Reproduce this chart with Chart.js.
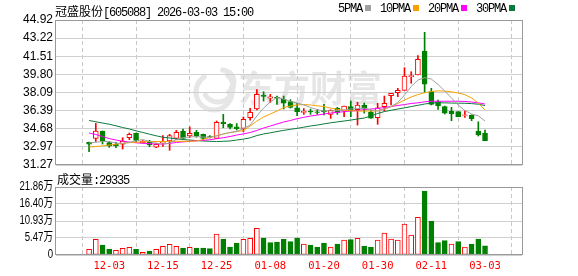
<!DOCTYPE html>
<html>
<head>
<meta charset="utf-8">
<script src="https://cdn.jsdelivr.net/npm/chart.js@4.4.1/dist/chart.umd.min.js"></script>
<style>
  body { margin: 0; background: #fff; }
  #wrap { position: relative; width: 578px; height: 276px; overflow: hidden; }
  canvas { position: absolute; left: 0; }
  #priceChart { top: 0; }
  #volChart { top: 176px; }
  .txt { position: absolute; white-space: nowrap; color: #000; line-height: 14px; }
  .cn { font: 12px 'Noto Sans CJK SC'; }
  .mono { font: 12px 'Liberation Mono'; letter-spacing: -1.2px; }
  .sq { display: inline-block; width: 6px; height: 6px; margin: 0 9px 1px 3px; }
</style>
</head>
<body>
<div id="wrap">
  <canvas id="priceChart" width="578" height="176"></canvas>
  <canvas id="volChart" width="578" height="100"></canvas>
  <div class="txt" id="title" style="left:55px; top:2px;"></div>
  <div class="txt mono" id="legend" style="left:338px; top:2px;"></div>
  <div class="txt" id="volTitle" style="left:57px; top:170px;"></div>
</div>
<script>
// stock info
const stockName = '冠盛股份';
const stockCode = '605088';
const quoteTime = '2026-03-03 15:00';

// trading days shown (MM-DD)
const dates = ['11-28','12-01','12-02','12-03','12-04','12-05','12-08','12-09','12-10','12-11',
  '12-12','12-15','12-16','12-17','12-18','12-19','12-22','12-23','12-24','12-25',
  '12-26','12-29','12-30','12-31','01-05','01-06','01-07','01-08','01-09','01-12',
  '01-13','01-14','01-15','01-16','01-19','01-20','01-21','01-22','01-23','01-26',
  '01-27','01-28','01-29','01-30','02-02','02-03','02-04','02-05','02-06','02-09',
  '02-10','02-11','02-12','02-13','02-24','02-25','02-26','02-27','03-02','03-03'];

const open = [33.40,33.78,34.47,33.37,33.22,33.22,33.84,34.28,33.37,33.40,
  32.96,33.34,33.53,33.78,34.47,34.00,34.35,34.16,33.95,33.78,
  35.29,35.10,34.86,34.72,35.72,36.54,37.86,37.55,37.64,37.48,
  37.23,36.66,36.23,36.32,36.28,36.40,36.04,36.61,36.35,36.76,
  36.47,36.92,36.23,35.72,36.76,37.79,38.07,38.30,39.58,39.74,
  42.00,38.17,37.23,36.76,36.35,36.29,35.93,35.95,34.47,34.25];
const high = [33.43,35.19,34.47,33.46,33.40,33.84,34.28,34.28,33.57,33.59,
  33.34,34.03,34.16,34.53,34.66,34.85,34.53,34.19,34.04,35.41,
  36.04,35.17,35.17,35.79,36.61,38.36,38.17,37.92,37.76,37.76,
  37.42,37.08,36.57,36.54,36.51,36.98,36.47,36.70,36.82,37.29,
  37.17,37.10,36.42,37.08,37.76,38.02,38.49,40.43,40.05,41.56,
  43.76,38.49,37.39,36.82,36.70,36.29,36.38,36.00,35.34,34.56];
const low = [32.52,33.48,33.24,32.93,32.90,32.77,33.65,33.46,33.34,32.99,
  32.90,33.03,32.65,33.65,33.78,33.84,33.88,33.65,33.81,33.78,
  34.78,34.66,34.56,34.40,35.50,36.45,37.29,37.17,36.98,36.54,
  36.63,35.91,36.04,36.04,36.04,35.98,35.66,36.04,35.81,35.81,
  35.03,36.16,35.66,35.10,36.35,36.92,37.70,38.30,38.96,39.74,
  38.11,36.92,36.51,36.07,35.44,35.81,35.76,35.44,34.00,33.56];
const close = [33.22,34.47,33.57,33.06,33.08,33.53,34.16,33.59,33.53,33.15,
  33.22,33.46,34.03,34.35,33.78,34.25,34.00,33.78,33.90,35.29,
  35.16,34.80,34.70,35.57,36.23,37.92,37.72,37.69,37.55,37.08,
  36.70,36.29,36.32,36.26,36.21,36.30,36.42,36.23,36.82,36.35,
  36.92,36.59,35.69,36.66,37.08,38.02,38.30,39.65,39.68,41.22,
  38.87,36.98,36.85,36.14,36.07,35.81,36.00,35.63,34.09,33.56];

// moving averages as drawn
const ma5 = [33.34,33.41,33.48,33.48,33.34,33.29,33.41,33.53,33.67,33.48,
  33.31,33.24,33.34,33.67,33.84,33.90,33.95,33.90,33.88,33.99,
  34.19,34.33,34.42,34.70,35.03,35.88,36.63,37.20,37.62,37.48,
  37.25,37.10,36.92,36.68,36.49,36.35,36.37,36.40,36.45,36.54,
  36.59,36.63,36.45,36.35,36.54,36.77,37.15,37.86,38.66,39.27,
  39.49,39.36,38.85,38.24,37.58,36.92,36.40,36.07,35.90,35.41];
const ma10 = [32.96,33.01,33.06,33.15,33.23,33.31,33.37,33.41,33.45,33.48,
  33.48,33.48,33.50,33.50,33.50,33.50,33.53,33.67,33.86,34.04,
  34.19,34.33,34.42,34.52,34.94,35.41,35.79,36.07,36.35,36.68,
  36.82,36.92,36.96,36.92,36.84,36.77,36.63,36.51,36.42,36.37,
  36.35,36.35,36.35,36.37,36.54,36.77,37.06,37.39,37.67,37.90,
  38.07,38.19,38.25,38.23,38.16,38.05,37.89,37.58,37.10,36.45];
const ma20 = [34.28,34.14,33.95,33.76,33.62,33.51,33.43,33.36,33.31,33.28,
  33.24,33.24,33.31,33.39,33.45,33.50,33.55,33.59,33.65,33.74,
  33.84,33.95,34.09,34.20,34.33,34.52,34.75,34.94,35.13,35.32,
  35.46,35.63,35.76,35.88,35.97,36.07,36.16,36.23,36.29,36.35,
  36.40,36.49,36.54,36.59,36.68,36.77,36.87,36.96,37.06,37.12,
  37.22,37.27,37.27,37.27,37.27,37.27,37.25,37.20,37.12,37.01];
const ma30 = [35.46,35.34,35.22,35.11,34.96,34.80,34.66,34.49,34.33,34.17,
  34.02,33.88,33.81,33.73,33.67,33.62,33.57,33.53,33.50,33.48,
  33.50,33.53,33.62,33.71,33.83,34.04,34.19,34.30,34.42,34.53,
  34.63,34.72,34.83,34.94,35.03,35.14,35.24,35.33,35.41,35.50,
  35.60,35.69,35.88,36.12,36.30,36.42,36.54,36.65,36.77,36.89,
  37.01,37.10,37.13,37.12,37.10,37.09,37.08,37.05,36.99,36.87];

// volume in 万手, and whether the volume bar is drawn as rising (red)
const volume = [1.83,5.05,3.22,1.93,1.50,2.14,2.47,1.83,0.87,1.29,
  1.83,2.79,3.43,2.79,2.25,2.47,2.25,2.25,2.03,6.75,
  5.14,2.57,3.86,5.05,5.37,8.58,5.47,3.96,4.18,5.05,
  4.28,5.47,3.54,3.22,2.57,3.86,2.57,3.54,4.82,4.92,
  5.37,2.89,2.57,4.82,7.07,5.14,4.82,9.97,6.43,12.12,
  20.58,10.93,3.96,4.60,3.54,4.28,2.57,3.54,5.14,2.9335];
const volRise = [1,1,0,0,1,1,1,0,1,0, 1,1,1,1,0,1,0,0,0,1,
  0,0,0,1,1,1,0,0,0,0, 0,0,1,0,0,0,1,0,1,0,
  1,0,0,1,1,1,1,1,1,1, 0,0,0,0,1,0,1,0,0,0];

const priceTicks = [31.27, 32.97, 34.68, 36.39, 38.09, 39.80, 41.51, 43.22, 44.92];
const volTicks = [0, 5.47, 10.93, 16.40, 21.86];
const dateTicks = ['12-03','12-15','12-25','01-08','01-20','01-30','02-11','03-03'];

const maNames = ['5PMA', '10PMA', '20PMA', '30PMA'];
const maColors = ['#a0a0a0', '#f5a200', '#ff00ff', '#0a7a3c'];
const RED = '#ff0000';
const GREEN = '#008000';

// header texts
document.getElementById('title').innerHTML =
  '<span class="cn">' + stockName + '</span><span class="mono">[' + stockCode + '] ' + quoteTime + '</span>';
document.getElementById('legend').innerHTML = maNames.map((n, k) =>
  n + '<span class="sq" style="background:' + maColors[k] + '"></span>').join('');
document.getElementById('volTitle').innerHTML =
  '<span class="cn">成交量</span><span class="mono">:' + Math.round(volume[volume.length - 1] * 10000) + '</span>';

const xMin = -0.59, xMax = 60.17;
const tickIdx = dateTicks.map(d => dates.indexOf(d));

function xAxis(showLabels) {
  return {
    type: 'linear',
    min: xMin,
    max: xMax,
    afterBuildTicks: s => { s.ticks = tickIdx.map(v => ({ value: v })); },
    afterFit: s => { s.height = showLabels ? 21 : 0; },
    grid: { color: '#c8c8c8', drawTicks: false },
    border: { display: false, dash: [4, 3] },
    ticks: {
      display: showLabels, autoSkip: false, maxRotation: 0, padding: 5,
      color: RED, font: { family: "'DejaVu Sans Mono'", size: 10.5 },
      callback: v => dates[v]
    }
  };
}

const frame = {
  id: 'frame',
  afterDraw(chart) {
    const a = chart.chartArea, ctx = chart.ctx;
    ctx.save();
    ctx.strokeStyle = '#999';
    ctx.lineWidth = 1;
    ctx.strokeRect(Math.round(a.left) - 0.5, Math.round(a.top) + 0.5,
      Math.round(a.right - a.left) + 1, Math.round(a.bottom - a.top) - 1);
    ctx.restore();
  }
};

const watermark = {
  id: 'watermark',
  beforeDraw(chart) {
    const ctx = chart.ctx;
    ctx.save();
    ctx.strokeStyle = '#e6e6e6';
    ctx.lineWidth = 5;
    ctx.lineCap = 'round';
    [[0.15, 0.85], [0.05, 0.6], [-0.05, 0.35]].forEach(([a0, a1], k) => {
      ctx.beginPath();
      ctx.arc(214 + k * 4, 92 - k * 5, 18 - k * 3, a0 * Math.PI * 2 - 1.2, a1 * Math.PI * 2 - 1.2);
      ctx.stroke();
    });
    ctx.font = "bold 36px 'Noto Sans CJK SC'";
    ctx.fillStyle = '#e6e6e6';
    ctx.textAlign = 'center';
    ctx.textBaseline = 'middle';
    ctx.fillText('东方财富', 310, 88);
    ctx.restore();
  }
};

const volLabels = {
  id: 'volLabels',
  afterDraw(chart) {
    const ctx = chart.ctx, s = chart.scales.y;
    ctx.save();
    ctx.font = "12px 'Liberation Sans', 'Noto Sans CJK SC'";
    ctx.fillStyle = '#000';
    ctx.textAlign = 'right';
    ctx.textBaseline = 'middle';
    volTicks.forEach(v => {
      const t = v === 0 ? '0' : v.toFixed(2) + '万';
      const w = ctx.measureText(t).width;
      ctx.fillText(t, s.right - 3, s.getPixelForValue(v), w * 0.8);
    });
    ctx.restore();
  }
};

const up = dates.map((d, i) => close[i] >= open[i]);
const candleColor = up.map(u => u ? RED : GREEN);

new Chart(document.getElementById('priceChart'), {
  type: 'bar',
  data: {
    datasets: [
      ...[ma5, ma10, ma20, ma30].map((arr, k) => ({
        type: 'line',
        data: arr.map((v, i) => ({ x: i, y: v })),
        borderColor: maColors[k],
        borderWidth: 1,
        pointRadius: 0,
        order: 0
      })),
      {
        data: dates.map((d, i) => ({ x: i, y: [open[i], close[i]] })),
        backgroundColor: up.map(u => u ? '#fff' : GREEN),
        borderColor: candleColor,
        borderWidth: 1,
        borderSkipped: false,
        barThickness: 5,
        grouped: false,
        order: 1
      },
      {
        data: dates.map((d, i) => ({ x: i, y: [low[i], high[i]] })),
        backgroundColor: candleColor,
        borderWidth: 0,
        barThickness: 1,
        grouped: false,
        order: 2
      }
    ]
  },
  options: {
    responsive: false,
    animation: false,
    events: [],
    layout: { padding: { top: 20, right: 56, bottom: 11, left: 0 } },
    plugins: { legend: { display: false }, tooltip: { enabled: false } },
    scales: {
      x: xAxis(false),
      y: {
        type: 'linear',
        min: priceTicks[0],
        max: priceTicks[priceTicks.length - 1],
        afterBuildTicks: s => { s.ticks = priceTicks.map(v => ({ value: v })); },
        afterFit: s => { s.width = 56; },
        grid: { color: '#d0d0d0', drawTicks: false },
        border: { display: false },
        ticks: {
          autoSkip: false, padding: 3, color: '#000',
          font: { family: "'Liberation Sans'", size: 12 },
          callback: v => v.toFixed(2)
        }
      }
    }
  },
  plugins: [watermark, frame]
});

new Chart(document.getElementById('volChart'), {
  type: 'bar',
  data: {
    datasets: [{
      data: volume.map((v, i) => ({ x: i, y: v })),
      backgroundColor: volRise.map(r => r ? '#fff' : GREEN),
      borderColor: volRise.map(r => r ? RED : GREEN),
      borderWidth: 1,
      borderSkipped: false,
      barThickness: 5
    }]
  },
  options: {
    responsive: false,
    animation: false,
    events: [],
    layout: { padding: { top: 11, right: 56, bottom: 0, left: 0 } },
    plugins: { legend: { display: false }, tooltip: { enabled: false } },
    scales: {
      x: xAxis(true),
      y: {
        type: 'linear',
        min: 0,
        max: volTicks[volTicks.length - 1],
        afterBuildTicks: s => { s.ticks = volTicks.map(v => ({ value: v })); },
        afterFit: s => { s.width = 56; },
        grid: { color: '#d0d0d0', drawTicks: false },
        border: { display: false },
        ticks: { display: false }
      }
    }
  },
  plugins: [frame, volLabels]
});
</script>
</body>
</html>
